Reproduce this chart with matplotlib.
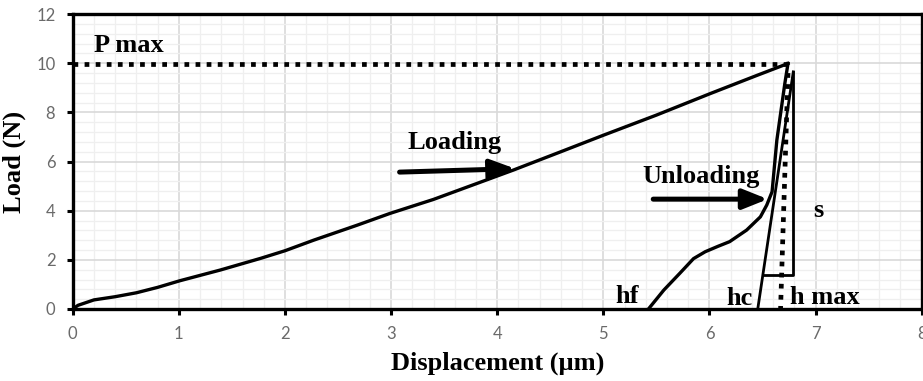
import numpy as np
import matplotlib
matplotlib.use("Agg")
import matplotlib.pyplot as plt
from matplotlib.ticker import MultipleLocator

# Indentation test: load / displacement
load_x = [0, 0.05, 0.2, 0.4, 0.6, 0.8, 1.01, 1.39, 1.77, 2.0, 2.27, 2.68,
          2.99, 3.40, 3.81, 4.15, 4.6, 5.0, 5.5, 6.01, 6.45, 6.74]
load_y = [0, 0.15, 0.37, 0.50, 0.66, 0.88, 1.15, 1.585, 2.06, 2.37, 2.80,
          3.41, 3.89, 4.46, 5.11, 5.65, 6.4, 7.07, 7.89, 8.77, 9.51, 9.99]

unload_x = [6.74, 6.71, 6.635, 6.59, 6.54, 6.48, 6.35, 6.19, 6.08, 5.96,
            5.85, 5.72, 5.57, 5.425]
unload_y = [9.99, 9.17, 6.87, 4.77, 4.23, 3.75, 3.21, 2.74, 2.55, 2.33,
            2.05, 1.45, 0.77, 0.0]

p_max = 10.0
h_f = 5.425
h_c = 6.455
h_max = 6.67
h_top = 6.74
tang_top_x, tang_top_y = 6.79, 9.65
s_base_y = 1.4

serif = "Liberation Serif"

fig = plt.figure(figsize=(9.23, 3.81), dpi=100)
ax = fig.add_axes([0.0788, 0.189, 0.9198, 0.774])

ax.set_xlim(0, 8)
ax.set_ylim(0, 12)
ax.xaxis.set_major_locator(MultipleLocator(1))
ax.xaxis.set_minor_locator(MultipleLocator(0.2))
ax.yaxis.set_major_locator(MultipleLocator(2))
ax.yaxis.set_minor_locator(MultipleLocator(0.4))
ax.grid(True, which="major", color="#d9d9d9", lw=1.2, zorder=0)
ax.grid(True, which="minor", color="#efefef", lw=0.9, zorder=0)
ax.set_axisbelow(True)

for sp in ax.spines.values():
    sp.set_linewidth(2.4)
    sp.set_color("black")
ax.tick_params(which="major", direction="out", length=4.5, width=2.2,
               color="black", labelsize=12, labelcolor="#6a6a6a", pad=8)
ax.tick_params(which="minor", length=0)
for lab in ax.get_xticklabels() + ax.get_yticklabels():
    lab.set_family("Lato")

# P max horizontal and h max dotted lines
dot = dict(color="black", lw=3.4, linestyle=(0, (1, 1.35)), zorder=3)
ax.plot([0, h_top], [p_max - 0.03, p_max - 0.03], **dot)
ax.plot([h_top, h_max], [9.6, 0], **dot)

# loading / unloading curves
ax.plot(load_x, load_y, color="black", lw=2.4, zorder=4)
ax.plot(unload_x, unload_y, color="black", lw=2.4, zorder=4)

# tangent at the unloading start (stiffness s)
slope = (tang_top_x - h_c) / tang_top_y
ax.plot([h_c, tang_top_x], [0, tang_top_y], color="black", lw=2.0, zorder=4)
ax.plot([tang_top_x, tang_top_x, h_c + slope * s_base_y],
        [tang_top_y, s_base_y, s_base_y], color="black", lw=2.0, zorder=4)

# labels
tkw = dict(family=serif, fontweight="bold", fontsize=19, va="baseline",
           ha="left", color="black")
ax.text(0.2, 10.45, "P max", **tkw)
ax.text(3.15, 6.53, "Loading", **tkw)
ax.text(5.37, 5.13, "Unloading", **tkw)
ax.text(6.975, 3.75, "s", **tkw)
ax.text(5.11, 0.23, "hf", **tkw)
ax.text(6.16, 0.18, "hc", **tkw)
ax.text(6.76, 0.2, "h max", **tkw)

arw = dict(arrowstyle="-|>,head_length=0.75,head_width=0.3", lw=3.6,
           color="black", shrinkA=0, shrinkB=0, mutation_scale=20)
ax.annotate("", xy=(4.17, 5.71), xytext=(3.08, 5.57), arrowprops=arw,
            zorder=5)
ax.annotate("", xy=(6.55, 4.47), xytext=(5.47, 4.47), arrowprops=arw,
            zorder=5)

ax.set_xlabel("Displacement (\u00b5m)", family=serif, fontweight="bold",
              fontsize=19, labelpad=7)
ax.set_ylabel("Load (N)", family=serif, fontweight="bold", fontsize=19,
              labelpad=7)

fig.savefig("out.png", dpi=100)
